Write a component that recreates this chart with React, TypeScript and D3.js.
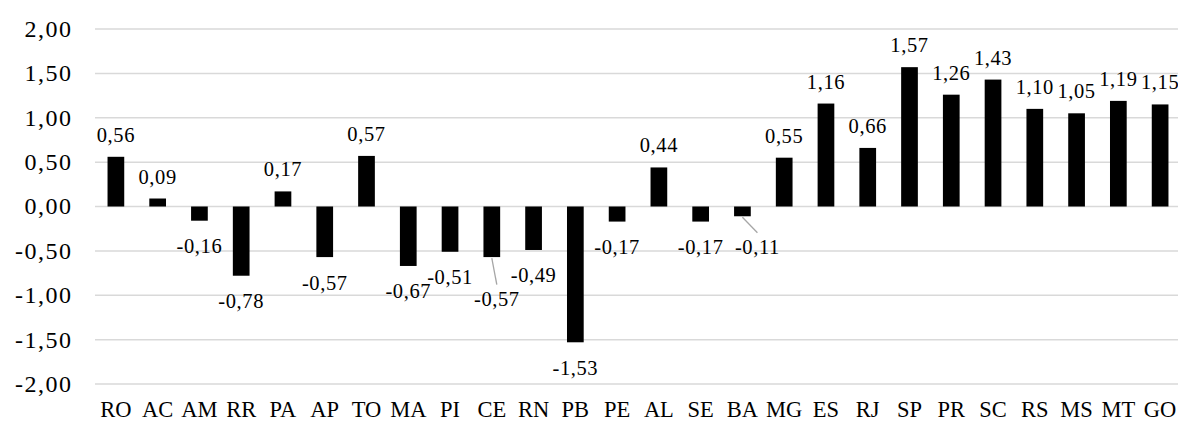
import React from "react";
import * as d3 from "d3";

const categories = ["RO","AC","AM","RR","PA","AP","TO","MA","PI","CE","RN","PB","PE","AL","SE","BA","MG","ES","RJ","SP","PR","SC","RS","MS","MT","GO"];
const values = [0.56,0.09,-0.16,-0.78,0.17,-0.57,0.57,-0.67,-0.51,-0.57,-0.49,-1.53,-0.17,0.44,-0.17,-0.11,0.55,1.16,0.66,1.57,1.26,1.43,1.10,1.05,1.19,1.15];
const yTicks = [-2, -1.5, -1, -0.5, 0, 0.5, 1, 1.5, 2];
// manually moved data labels (with leader lines)
const labelNudgeCats = ["CE", "BA"];
const labelNudgeDx = [5, 15];
const labelNudgeDy = [16, 5];

const W = 1178, H = 421;
const fmt = (v: number) => v.toFixed(2).replace(".", ",");
const font = "Liberation Serif";

export default function App() {
  const x = d3.scaleBand<string>().domain(categories).range([95, 1181]).paddingInner(0.6).paddingOuter(0.3);
  const y = d3.scaleLinear().domain([-2, 2]).range([384, 29]);
  return (
    <svg width={W} height={H} style={{ position: "absolute", left: 0, top: 0, background: "#fff", fontFamily: font }}>
      <rect x={0} y={0} width={W} height={H} fill="#fff" />
      {yTicks.map((t) => (
        <g key={t}>
          <line x1={95} x2={1181} y1={y(t)} y2={y(t)} stroke="#d9d9d9" strokeWidth={1.5} />
          <text x={72.5} y={y(t)} dy="0.33em" textAnchor="end" style={{ fontFamily: font, fontSize: 24, letterSpacing: 1.5 }} fill="#000">{fmt(t)}</text>
        </g>
      ))}
      {categories.map((c, i) => {
        const v = values[i];
        const bx = x(c)!;
        const bw = x.bandwidth();
        const y0 = y(0), y1 = y(v);
        const cx = bx + bw / 2;
        const ni = labelNudgeCats.indexOf(c);
        const dx = ni >= 0 ? labelNudgeDx[ni] : 0;
        const dy = ni >= 0 ? labelNudgeDy[ni] : 0;
        const lx = cx + dx;
        const ly = v >= 0 ? y1 - 15 + dy : y1 + 32.5 + dy;
        return (
          <g key={c}>
            <rect x={bx} y={Math.min(y0, y1)} width={bw} height={Math.abs(y1 - y0)} fill="#000" />
            {ni >= 0 && (
              <line x1={cx} y1={y1 + 1} x2={lx} y2={ly - 21} stroke="#a6a6a6" strokeWidth={1.3} />
            )}
            <text x={lx} y={ly} textAnchor="middle" style={{ fontFamily: font, fontSize: 20.5, letterSpacing: 0.6 }} fill="#000">{fmt(v)}</text>
            <text x={cx} y={417} textAnchor="middle" style={{ fontFamily: font, fontSize: 22.5 }} fill="#000">{c}</text>
          </g>
        );
      })}
    </svg>
  );
}
